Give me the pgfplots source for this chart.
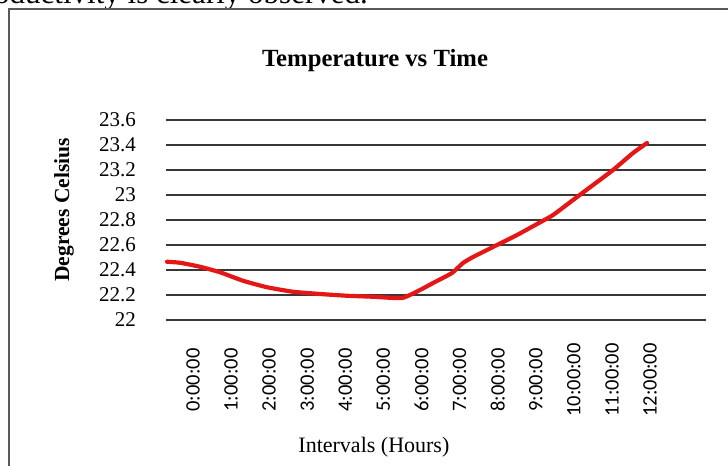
\documentclass[border=0pt]{standalone}
\usepackage{pgfplots}
\pgfplotsset{compat=1.18}
\usepackage{fontspec}
\setmainfont{Liberation Serif}
\newfontfamily\calibri{Carlito}
\definecolor{linered}{RGB}{228,22,22}
\definecolor{gridgray}{RGB}{55,55,55}
\begin{document}
\begin{tikzpicture}
\useasboundingbox (0,0) rectangle (728bp,466bp);
\begin{scope}
\clip (0,0) rectangle (728bp,466bp);
\node[anchor=base east, font=\fontsize{31bp}{31bp}\selectfont, inner sep=0pt] at (368bp,462bp) {productivity is clearly observed.};
\draw[line width=1.6bp, black!65] (9bp,-5bp) -- (9bp,457bp) -- (740bp,457bp);
\end{scope}
\begin{axis}[
  at={(166bp,146bp)}, anchor=south west,
  scale only axis, width=540bp, height=200bp,
  xmin=-0.709, xmax=13.47,
  ymin=22, ymax=23.6,
  ytick={22,22.2,...,23.6},
  yticklabels={22,22.2,22.4,22.6,22.8,23,23.2,23.4,23.6},
  xtick={0,1,...,12},
  xticklabels={0:00:00,1:00:00,2:00:00,3:00:00,4:00:00,5:00:00,6:00:00,7:00:00,8:00:00,9:00:00,10:00:00,11:00:00,12:00:00},
  ymajorgrids, xmajorgrids=false,
  grid style={draw=gridgray, line width=1.3bp},
  axis line style={draw=none},
  tick style={draw=none},
  major tick length=0pt,
  /pgf/number format/assume math mode=true,
  yticklabel style={font=\fontsize{21bp}{21bp}\selectfont, anchor=east, inner sep=0pt, xshift=-30bp},
  xticklabel style={font=\calibri\fontsize{20.5bp}{20.5bp}\selectfont, inner sep=0pt, yshift=-60bp, rotate=90, anchor=center},
  title={Temperature vs Time},
  title style={at={(axis description cs:0.387,1.24)}, anchor=base, font=\bfseries\fontsize{24.7bp}{24.7bp}\selectfont, inner sep=0pt},
  xlabel={Intervals (Hours)},
  every axis x label/.style={at={(axis description cs:0.385,-0.66)}, anchor=base, font=\fontsize{22bp}{22bp}\selectfont, inner sep=0pt},
  ylabel={Degrees Celsius},
  every axis y label/.style={at={(axis description cs:-0.1889,0.55)}, rotate=90, anchor=center, font=\bfseries\fontsize{21.5bp}{21.5bp}\selectfont, inner sep=0pt},
  clip=false,
]
\addplot[color=linered, line width=4.2bp, line join=round, line cap=round, smooth, tension=0.3] table {
x y
-0.683 22.466
-0.341 22.458
0.184 22.426
0.709 22.382
1.313 22.314
1.943 22.262
2.626 22.226
3.335 22.208
4.044 22.194
4.727 22.186
5.488 22.176
5.961 22.240
6.303 22.296
6.801 22.376
7.090 22.456
7.353 22.504
7.878 22.584
8.508 22.680
9.034 22.768
9.454 22.840
9.979 22.960
10.504 23.080
11.029 23.200
11.555 23.336
11.922 23.416
};
\end{axis}
\end{tikzpicture}
\end{document}
